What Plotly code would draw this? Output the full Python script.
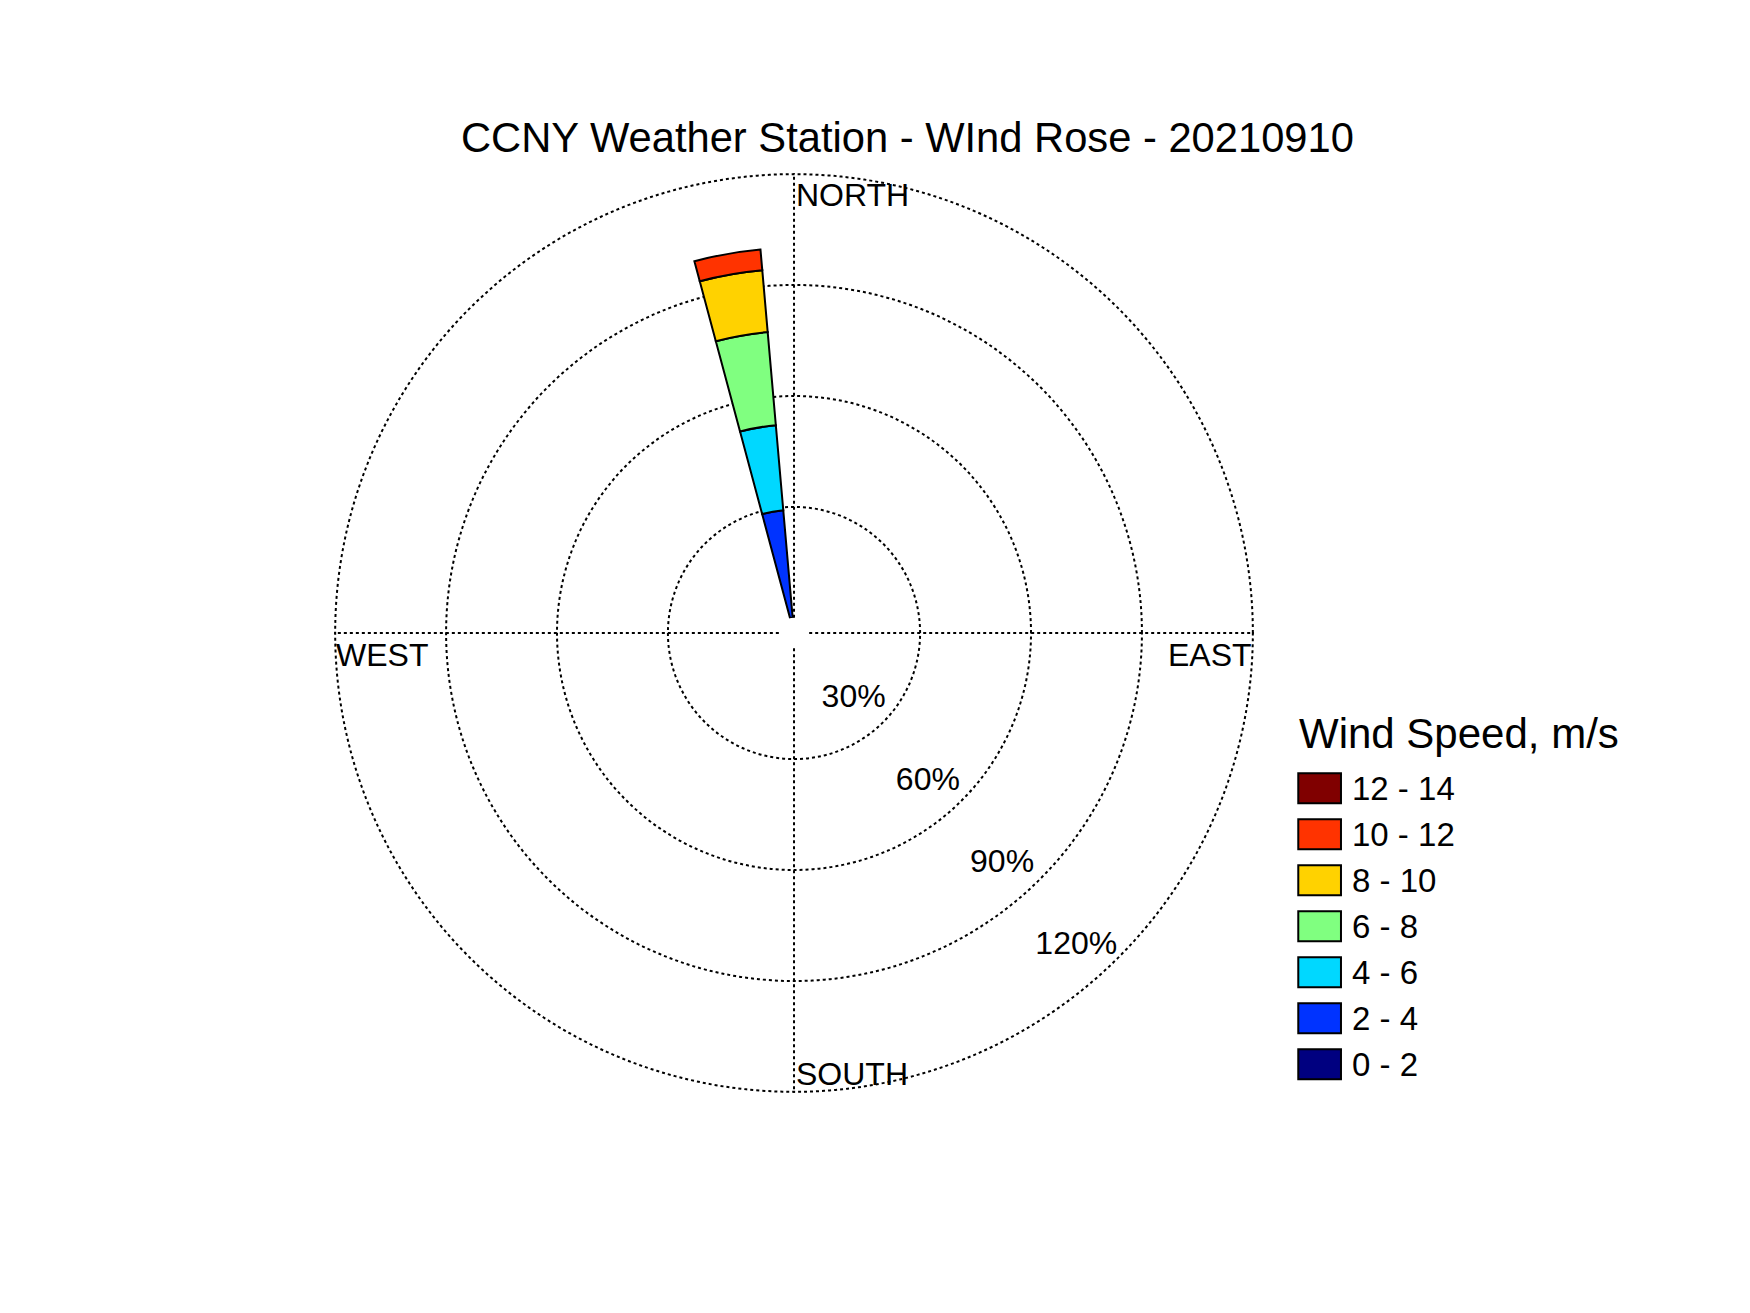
import plotly.graph_objects as go

# wind speed classes (m/s) and their colours
speed_bins = ["0 - 2", "2 - 4", "4 - 6", "6 - 8", "8 - 10", "10 - 12", "12 - 14"]
bin_colors = ["#000080", "#0033FF", "#00D8FF", "#80FF80", "#FFD200", "#FF3300", "#800000"]

# one direction sector carries all the wind
sector_dir = 350
sector_width = 10
frequency = [0, 29.2, 23.1, 25.3, 16.8, 5.6, 0]  # % per speed class

ring_ticks = [30, 60, 90, 120]
compass_labels = ["NORTH", "EAST", "SOUTH", "WEST"]
compass_angles = [0, 90, 180, 270]

FONT = "Arial, Liberation Sans, sans-serif"
W, H = 1750, 1313

fig = go.Figure()

for name, color, value in zip(speed_bins, bin_colors, frequency):
    fig.add_trace(
        go.Barpolar(
            r=[value],
            theta=[sector_dir],
            width=[sector_width],
            name=name,
            marker_color=color,
            marker_line_color="black",
            marker_line_width=2,
            showlegend=False,
        )
    )

# ring percentages along the south-east diagonal
fig.add_trace(
    go.Scatterpolar(
        r=[t - 10 for t in ring_ticks],
        theta=[138] * len(ring_ticks),
        text=[f"{t}%" for t in ring_ticks],
        mode="text",
        textfont=dict(family=FONT, size=32, color="black"),
        showlegend=False,
        hoverinfo="skip",
    )
)

fig.update_layout(
    width=W,
    height=H,
    paper_bgcolor="white",
    plot_bgcolor="white",
    margin=dict(l=0, r=0, t=0, b=0),
    font=dict(family=FONT, color="black"),
    polar=dict(
        domain=dict(x=[0.1863, 0.7120], y=[0.1737, 0.8743]),
        bgcolor="white",
        hole=0.033,
        barmode="stack",
        radialaxis=dict(
            range=[0, ring_ticks[-1] + 0.3],
            tickvals=ring_ticks,
            showticklabels=False,
            ticks="",
            showline=False,
            gridcolor="black",
            gridwidth=1.6,
            griddash="dot",
        ),
        angularaxis=dict(
            rotation=90,
            direction="clockwise",
            tickvals=compass_angles,
            showticklabels=False,
            ticks="",
            showline=False,
            gridcolor="black",
            gridwidth=1.6,
            griddash="dot",
        ),
    ),
)

# compass labels tucked just inside the outer ring (pixel positions)
compass_pos = {
    "NORTH": (786, 187, "left"),
    "EAST": (1246, 647, "right"),
    "SOUTH": (786, 1066, "left"),
    "WEST": (326, 647, "left"),
}
for label in compass_labels:
    px, py, anchor = compass_pos[label]
    fig.add_annotation(
        text=label,
        x=px / W, y=1 - py / H, xref="paper", yref="paper",
        xanchor=anchor, yanchor="middle", showarrow=False,
        font=dict(family=FONT, size=32, color="black"),
    )

fig.add_annotation(
    text="CCNY Weather Station - WInd Rose - 20210910",
    x=0.5138, y=0.9010, xref="paper", yref="paper",
    xanchor="center", yanchor="middle", showarrow=False,
    font=dict(family=FONT, size=41.7, color="black"),
)

# legend drawn by hand so the swatches match the original size
fig.add_annotation(
    text="Wind Speed, m/s",
    x=0.7366, y=0.4477, xref="paper", yref="paper",
    xanchor="left", yanchor="middle", showarrow=False,
    font=dict(family=FONT, size=42, color="black"),
)
step = 46 / H
for i, (name, color) in enumerate(zip(speed_bins[::-1], bin_colors[::-1])):
    top = 0.4171 - i * step
    fig.add_shape(
        type="rect", xref="paper", yref="paper",
        x0=0.7373, x1=0.7617, y0=top - 30 / H, y1=top,
        fillcolor=color, line=dict(color="black", width=2),
    )
    fig.add_annotation(
        text=name,
        x=0.7669, y=top - 15 / H, xref="paper", yref="paper",
        xanchor="left", yanchor="middle", showarrow=False,
        font=dict(family=FONT, size=33, color="black"),
    )

fig.write_html("out.html")
